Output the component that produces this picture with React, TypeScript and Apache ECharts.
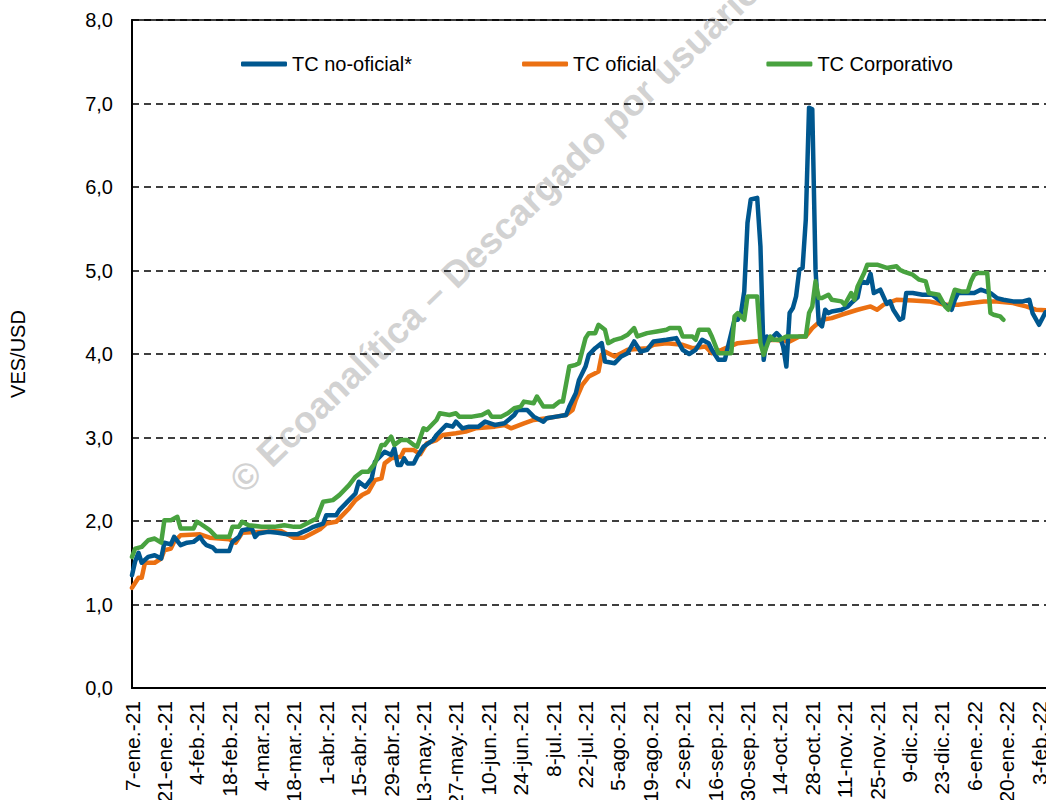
import React, { useEffect, useRef } from "react";
import * as echarts from "echarts";

const tickLabels = [
  "7-ene.-21", "21-ene.-21", "4-feb.-21", "18-feb.-21", "4-mar.-21", "18-mar.-21",
  "1-abr.-21", "15-abr.-21", "29-abr.-21", "13-may.-21", "27-may.-21", "10-jun.-21",
  "24-jun.-21", "8-jul.-21", "22-jul.-21", "5-ago.-21", "19-ago.-21", "2-sep.-21",
  "16-sep.-21", "30-sep.-21", "14-oct.-21", "28-oct.-21", "11-nov.-21", "25-nov.-21",
  "9-dic.-21", "23-dic.-21", "6-ene.-22", "20-ene.-22", "3-feb.-22",
];

const seriesNames = ["TC no-oficial*", "TC oficial", "TC Corporativo"];

// [business-day index since 7-ene.-21, VES/USD]
const noOficial: [number, number][] = [
  [0, 1.35], [1, 1.52], [2, 1.62], [3, 1.5], [5, 1.57], [7, 1.59], [9, 1.55], [10, 1.74],
  [12, 1.72], [13, 1.81], [15, 1.71], [17, 1.74], [19, 1.75], [21, 1.81], [22, 1.75],
  [23, 1.71], [25, 1.68], [26, 1.64], [30, 1.64], [31, 1.75], [33, 1.81], [34, 1.89],
  [37, 1.91], [38, 1.81], [39, 1.85], [42, 1.87], [45, 1.86], [48, 1.84], [51, 1.84],
  [54, 1.89], [56, 1.93], [59, 1.97], [60, 2.07], [63, 2.07], [64, 2.13], [67, 2.25],
  [69, 2.33], [70, 2.47], [72, 2.41], [74, 2.51], [75, 2.71], [78, 2.83], [80, 2.79],
  [81, 2.87], [82, 2.67], [83, 2.67], [84, 2.75], [85, 2.69], [87, 2.69], [88, 2.77],
  [90, 2.89], [93, 2.97], [94, 3.03], [97, 3.15], [99, 3.13], [100, 3.19], [102, 3.11],
  [104, 3.13], [107, 3.13], [109, 3.19], [112, 3.15], [115, 3.17], [118, 3.27], [119, 3.33],
  [122, 3.33], [124, 3.25], [127, 3.19], [128, 3.23], [131, 3.25], [134, 3.27], [135, 3.37],
  [137, 3.53], [138, 3.69], [140, 3.85], [141, 3.99], [143, 4.07], [145, 4.13], [146, 3.91],
  [149, 3.89], [151, 3.97], [153, 4.01], [155, 4.15], [157, 4.03], [159, 4.05], [161, 4.15],
  [165, 4.17], [168, 4.19], [170, 4.05], [172, 4.0], [174, 4.05], [176, 4.17], [178, 4.13],
  [179, 4.05], [181, 3.93], [183, 3.93], [185, 4.25], [186, 4.41], [187, 4.41], [188, 4.49],
  [189, 4.75], [190, 5.57], [191, 5.85], [193, 5.87], [194, 5.29], [195, 3.93], [196, 4.21],
  [197, 4.17], [199, 4.25], [200, 4.21], [201, 4.09], [202, 3.85], [203, 4.49], [204, 4.55],
  [205, 4.69], [206, 5.01], [207, 5.03], [208, 5.61], [209, 6.95], [210, 6.93], [211, 5.01],
  [212, 4.37], [213, 4.33], [214, 4.53], [215, 4.49], [216, 4.51], [219, 4.53], [221, 4.57],
  [222, 4.61], [224, 4.68], [225, 4.87], [227, 4.85], [228, 4.96], [229, 4.73], [231, 4.77],
  [233, 4.6], [234, 4.63], [235, 4.53], [237, 4.41], [238, 4.43], [239, 4.73], [241, 4.73],
  [244, 4.71], [247, 4.71], [249, 4.65], [251, 4.59], [253, 4.53], [254, 4.65], [255, 4.73],
  [257, 4.73], [260, 4.73], [262, 4.77], [265, 4.73], [267, 4.67], [269, 4.65], [272, 4.63],
  [275, 4.63], [277, 4.65], [278, 4.49], [280, 4.35], [282, 4.5], [284, 4.52],
];

const oficial: [number, number][] = [
  [0, 1.2], [2, 1.32], [3, 1.32], [4, 1.5], [7, 1.5], [9, 1.55], [10, 1.65], [12, 1.67],
  [13, 1.75], [15, 1.83], [21, 1.84], [24, 1.8], [30, 1.78], [32, 1.74], [34, 1.86],
  [46, 1.88], [50, 1.8], [53, 1.8], [56, 1.86], [58, 1.9], [60, 1.97], [63, 1.99],
  [65, 2.07], [67, 2.15], [69, 2.25], [71, 2.31], [73, 2.35], [75, 2.49], [77, 2.51],
  [78, 2.69], [80, 2.75], [83, 2.77], [84, 2.85], [87, 2.85], [89, 2.8], [91, 2.93],
  [94, 2.97], [96, 3.03], [100, 3.05], [103, 3.07], [106, 3.11], [112, 3.13], [115, 3.15],
  [117, 3.11], [121, 3.17], [124, 3.21], [128, 3.23], [131, 3.25], [134, 3.27], [136, 3.33],
  [137, 3.45], [139, 3.63], [141, 3.73], [143, 3.77], [144, 3.79], [145, 3.99], [146, 4.03],
  [147, 4.01], [149, 3.97], [151, 4.01], [153, 4.05], [156, 4.06], [159, 4.07], [161, 4.11],
  [165, 4.13], [170, 4.11], [173, 4.07], [177, 4.09], [179, 4.01], [182, 4.05], [187, 4.13],
  [192, 4.15], [198, 4.17], [203, 4.15], [206, 4.21], [208, 4.21], [210, 4.31], [213, 4.41],
  [216, 4.43], [219, 4.47], [224, 4.53], [228, 4.57], [230, 4.53], [232, 4.59], [236, 4.65],
  [241, 4.64], [246, 4.63], [251, 4.59], [255, 4.59], [259, 4.61], [263, 4.63], [267, 4.63],
  [272, 4.61], [276, 4.57], [279, 4.53], [284, 4.52],
];

const corporativo: [number, number][] = [
  [0, 1.57], [1, 1.67], [3, 1.69], [5, 1.77], [7, 1.79], [9, 1.74], [10, 2.01], [12, 2.01],
  [14, 2.05], [15, 1.91], [19, 1.91], [20, 1.99], [21, 1.97], [24, 1.89], [26, 1.81],
  [30, 1.81], [31, 1.93], [33, 1.93], [34, 1.99], [36, 1.95], [40, 1.93], [44, 1.93],
  [47, 1.95], [50, 1.93], [52, 1.93], [55, 1.99], [57, 2.03], [59, 2.23], [62, 2.25],
  [64, 2.31], [67, 2.43], [69, 2.53], [71, 2.59], [73, 2.59], [75, 2.69], [77, 2.91],
  [78, 2.91], [80, 3.01], [81, 2.91], [83, 2.97], [85, 2.97], [87, 2.91], [88, 2.89],
  [90, 3.11], [91, 3.09], [94, 3.21], [95, 3.29], [98, 3.27], [100, 3.29], [101, 3.25],
  [105, 3.25], [108, 3.27], [110, 3.31], [111, 3.25], [114, 3.25], [116, 3.29], [118, 3.35],
  [120, 3.37], [121, 3.43], [124, 3.41], [125, 3.49], [127, 3.37], [130, 3.37], [132, 3.43],
  [133, 3.43], [135, 3.85], [137, 3.87], [138, 3.89], [140, 4.19], [141, 4.25], [143, 4.25],
  [144, 4.35], [146, 4.29], [147, 4.13], [149, 4.17], [151, 4.19], [153, 4.23], [155, 4.31],
  [156, 4.21], [159, 4.25], [162, 4.27], [165, 4.29], [166, 4.31], [169, 4.31], [170, 4.21],
  [173, 4.21], [174, 4.17], [175, 4.29], [178, 4.29], [179, 4.21], [181, 4.01], [185, 4.01],
  [186, 4.45], [187, 4.49], [189, 4.41], [190, 4.69], [193, 4.69], [194, 4.13], [195, 3.99],
  [197, 4.21], [198, 4.17], [200, 4.17], [202, 4.21], [208, 4.21], [209, 4.49], [210, 4.57],
  [211, 4.87], [212, 4.67], [213, 4.67], [215, 4.71], [216, 4.65], [219, 4.63], [220, 4.59],
  [222, 4.73], [223, 4.65], [224, 4.81], [226, 4.97], [227, 5.07], [230, 5.07], [233, 5.03],
  [236, 5.05], [237, 5.01], [238, 4.99], [241, 4.95], [243, 4.89], [245, 4.87], [246, 4.73],
  [249, 4.71], [251, 4.57], [252, 4.53], [253, 4.65], [254, 4.77], [256, 4.75], [258, 4.75],
  [259, 4.87], [260, 4.95], [261, 4.97], [264, 4.97], [265, 4.49], [266, 4.47], [268, 4.45],
  [269, 4.41],
];

const colors = ["#00578F", "#EB7012", "#48A23F"];
const FONT = "'Liberation Sans', Arial, sans-serif";

export default function App() {
  const ref = useRef<HTMLDivElement>(null);
  useEffect(() => {
    if (!ref.current) return;
    const chart = echarts.init(ref.current, undefined, { renderer: "svg" });
    const seriesData = [noOficial, oficial, corporativo];
    chart.setOption({
      animation: false,
      backgroundColor: "#ffffff",
      textStyle: { fontFamily: FONT },
      grid: {
        left: 132,
        right: -6,
        top: 20,
        bottom: 112,
        outerBoundsMode: "none",
        containLabel: false,
        show: true,
        borderColor: "#000",
        borderWidth: 1.5,
      },
      legend: {
        data: seriesNames,
        left: 236,
        top: 49,
        itemWidth: 46,
        itemHeight: 5,
        itemGap: 110,
        icon: "roundRect",
        textStyle: { fontSize: 20, color: "#000", fontFamily: FONT },
      },
      graphic: [
        {
          type: "text",
          x: 236,
          y: 486,
          rotation: (44 * Math.PI) / 180,
          z: 0,
          silent: true,
          style: {
            text: "© Ecoanalítica – Descargado por usuario",
            fontSize: 37,
            fontWeight: "bold",
            fontFamily: FONT,
            fill: "#d2d2d2",
            textAlign: "left",
            textVerticalAlign: "middle",
          },
        },
      ],
      xAxis: {
        type: "value",
        min: 0,
        max: 284,
        interval: 10,
        axisLine: { show: true, lineStyle: { color: "#000", width: 2 } },
        axisTick: { show: false },
        splitLine: { show: false },
        axisLabel: {
          rotate: 90,
          margin: 13,
          fontSize: 21,
          color: "#000",
          fontFamily: FONT,
          padding: [6, 0, 0, 0],
          formatter: (v: number) => {
            const i = v / 10;
            return Number.isInteger(i) && tickLabels[i] ? tickLabels[i] : "";
          },
        },
      },
      yAxis: {
        type: "value",
        min: 0,
        max: 8,
        interval: 1,
        name: "VES/USD",
        nameLocation: "middle",
        nameRotate: 90,
        nameGap: 104,
        nameTextStyle: { fontSize: 20, color: "#000", fontFamily: FONT },
        axisLine: { show: true, lineStyle: { color: "#000", width: 2 } },
        axisTick: { show: false },
        splitLine: { show: true, lineStyle: { color: "#000", width: 1.5, type: [7, 5] } },
        axisLabel: {
          margin: 19,
          fontSize: 20,
          color: "#000",
          fontFamily: FONT,
          formatter: (v: number) => v.toFixed(1).replace(".", ","),
        },
      },
      series: seriesNames.map((name, i) => ({
        name,
        type: "line",
        data: seriesData[i],
        symbol: "none",
        showSymbol: false,
        color: colors[i],
        z: 3 + (i === 1 ? 0 : i === 0 ? 1 : 2),
        lineStyle: { width: 4.5, color: colors[i], join: "round", cap: "round" },
      })),
    });
    return () => chart.dispose();
  }, []);
  return (
    <div
      ref={ref}
      style={{ position: "fixed", left: 0, top: 0, width: 1046, height: 800 }}
    />
  );
}
